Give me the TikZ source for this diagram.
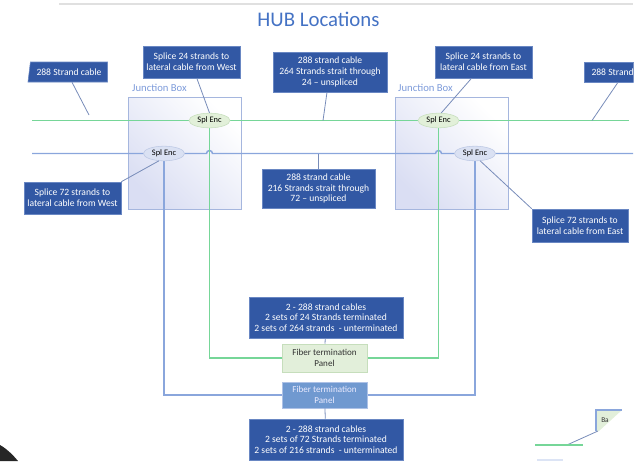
\documentclass[tikz,border=0pt]{standalone}
\usepackage{fontspec}
\setmainfont{Carlito}
\usetikzlibrary{shapes.geometric,backgrounds}

\definecolor{calloutblue}{RGB}{50,88,164}
\definecolor{calloutedge}{RGB}{105,135,195}
\definecolor{pointer}{RGB}{120,140,185}
\definecolor{fibergreen}{RGB}{118,214,152}
\definecolor{fiberblue}{RGB}{138,166,220}
\definecolor{encgreen}{RGB}{226,240,217}
\definecolor{encgreenedge}{RGB}{198,222,188}
\definecolor{encblue}{RGB}{218,225,243}
\definecolor{encblueedge}{RGB}{188,200,228}
\definecolor{panelgreen}{RGB}{226,239,218}
\definecolor{panelblue}{RGB}{112,153,208}
\definecolor{jboxedge}{RGB}{165,182,222}
\definecolor{jboxfill}{RGB}{218,222,243}
\definecolor{titleblue}{RGB}{68,114,196}
\definecolor{jblabelblue}{RGB}{125,155,218}

\tikzset{
  callout/.style={draw=calloutedge, fill=calloutblue, text=white, align=center,
    inner sep=0pt, font=\fontsize{7.2}{8}\selectfont},
  gsplenc/.style={ellipse, draw=encgreenedge, fill=encgreen, minimum width=30.75pt,
    minimum height=11pt, inner sep=0pt, font=\fontsize{6.3}{7}\selectfont},
  bsplenc/.style={gsplenc, draw=encblueedge, fill=encblue},
  gpanel/.style={draw=encgreenedge, fill=panelgreen, text=black!80, align=center,
    minimum width=63.75pt, minimum height=21pt, inner sep=0pt,
    font=\fontsize{6.8}{8}\selectfont},
  bpanel/.style={gpanel, draw=fiberblue!70, fill=panelblue, text=white!92!blue,
    minimum height=19.5pt},
  jbox/.style={draw=jboxedge, minimum width=84.75pt, minimum height=84pt,
    left color=jboxfill, right color=white, shading angle=135},
  jblabel/.style={text=jblabelblue, font=\fontsize{8}{9}\selectfont, inner sep=0pt},
  greenline/.style={fibergreen, line width=1.1pt},
  blueline/.style={fiberblue, line width=1.1pt},
  pointerline/.style={pointer, line width=0.6pt}
}

\begin{document}
\begin{tikzpicture}[x=0.75pt,y=0.75pt,yscale=-1,xscale=1]
\useasboundingbox (0,0) rectangle (643,461);

%Slide edge
\draw [black!12, line width=1.5pt] (59,4) -- (633,4) ;

% Text Node
\node [text=titleblue, font=\fontsize{15.6}{17}\selectfont] (title) at (318.5,19) {HUB Locations};

%Splice enclosures
\node [gsplenc] (gEncW) at (209.5,120.5) {Spl Enc};
\node [bsplenc] (bEncW) at (164,153.5) {Spl Enc};
\node [gsplenc] (gEncE) at (438.5,120.5) {Spl Enc};
\node [bsplenc] (bEncE) at (475,153.5) {Spl Enc};

%Termination panels
\node [gpanel] (gPanel) at (324.5,358) {Fiber termination\\Panel};
\node [bpanel] (bPanel) at (324.5,395) {Fiber termination\\Panel};

%Callouts
\node [callout, trapezium, trapezium left angle=73, trapezium right angle=90,
  trapezium stretches=true, minimum width=60pt, minimum height=15pt] (cableW) at (69,72) {288 Strand cable};
\node [callout, minimum width=72.75pt, minimum height=24pt] (spliceW24) at (191.5,62) {Splice 24 strands to\\lateral cable from West};
\node [callout, minimum width=85.5pt, minimum height=30pt] (thru264) at (330,72) {288 strand cable\\264 Strands strait through\\24 -- unspliced};
\node [callout, minimum width=72.75pt, minimum height=24pt] (spliceE24) at (483.5,62) {Splice 24 strands to\\lateral cable from East};
\begin{scope}
\clip (0,0) rectangle (633.5,461);
\node [callout, minimum width=60pt, minimum height=15pt] (cableE) at (624,72) {288 Strand cable};
\end{scope}
\node [callout, minimum width=72.75pt, minimum height=24pt] (spliceW72) at (72.5,198) {Splice 72 strands to\\lateral cable from West};
\node [callout, minimum width=84.75pt, minimum height=29.25pt] (thru216) at (318.5,188.5) {288 strand cable\\216 Strands strait through\\72 -- unspliced};
\node [callout, minimum width=72pt, minimum height=24.75pt] (spliceE72) at (580,225.5) {Splice 72 strands to\\lateral cable from East};
\node [callout, minimum width=115.5pt, minimum height=30.75pt] (term24) at (326,317.5) {2 - 288 strand cables\\2 sets of 24 Strands terminated\\2 sets of 264 strands \ - unterminated};
\node [callout, minimum width=115.5pt, minimum height=30.75pt] (term72) at (326,439.5) {2 - 288 strand cables\\2 sets of 72 Strands terminated\\2 sets of 216 strands \ - unterminated};

%Cable ends
\coordinate (greenW) at (32,120.5);
\coordinate (greenE) at (629,120.5);
\coordinate (blueW) at (32,153.5);
\coordinate (blueE) at (633,153.5);
\coordinate (hopW) at (gEncW |- bEncW);
\coordinate (hopE) at (gEncE |- bEncE);

\begin{pgfonlayer}{background}
%Junction boxes
\node [jbox] (jboxW) at (184.5,153) {};
\node [jbox] (jboxE) at (451.5,153) {};
%Straight Lines
\draw [greenline] (greenW) -- (greenE) ;
\draw [blueline] (blueW) -- ([xshift=-2.25pt]hopW) arc [start angle=180, end angle=360, radius=3]
  -- ([xshift=-2.25pt]hopE) arc [start angle=180, end angle=360, radius=3] -- (blueE) ;
\draw [greenline] (gEncW) |- (gPanel) ;
\draw [greenline] (gEncE) |- (gPanel) ;
\draw [blueline] (bEncW) |- (bPanel) ;
\draw [blueline] (bEncE) |- (bPanel) ;
\end{pgfonlayer}

% Text Node
\node [jblabel] (jbW) at (159.5,88) {Junction Box};
\node [jblabel] (jbE) at (425.5,88) {Junction Box};

%Pointers
\coordinate (cableWtip) at (89,115);
\coordinate (cableEtip) at (592,120.5);
\coordinate (thru264tip) at (323,120.5);
\coordinate (thru216tip) at (318.5,153.5);
\draw [pointerline] ([xshift=2.25pt]cableW.south) -- (cableWtip) ;
\draw [pointerline] ([xshift=4pt]spliceW24.south) -- (gEncW.north) ;
\draw [pointerline] ([xshift=-2.25pt]thru264.south) -- (thru264tip) ;
\draw [pointerline] ([xshift=-9pt]spliceE24.south) -- (gEncE.70) ;
\draw [pointerline] ([xshift=-4.5pt]cableE.south) -- (cableEtip) ;
\draw [pointerline] (spliceW72.north east) -- (bEncW.235) ;
\draw [pointerline] (thru216.north) -- (thru216tip) ;
\draw [pointerline] (bEncE.305) -- (spliceE72.north west) ;
\draw [pointerline] (term24) -- (gPanel) ;
\draw [pointerline] (bPanel) -- (term72) ;

%Shape: cut-off note, bottom right
\fill [panelgreen] (596,410) -- (622,410) -- (599,431) -- (596,431) -- cycle ;
\draw [fiberblue, line width=1.5pt] (596,431) -- (596,410) -- (622,410) ;
\node [font=\fontsize{5.5}{6}\selectfont, text=black!80, inner sep=0pt] (backNote) at (605,420) {Ba};
\coordinate (backTip) at (568,444.5);
\coordinate (backLineW) at (535,445);
\coordinate (backLineE) at (583,445);
\draw [pointerline] (598,431) -- (backTip) ;
\draw [greenline] (backLineW) -- (backLineE) ;
\draw [fiberblue!30, line width=1pt] (537,460) -- (563,460) ;

%Shape: dark corner
\fill [black!85] (0,445) .. controls (7,449) and (13,455) .. (18,461) -- (0,461) -- cycle ;

\end{tikzpicture}
\end{document}
